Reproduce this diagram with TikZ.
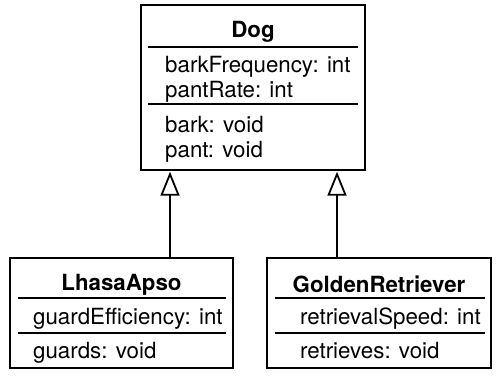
\documentclass[tikz,border=0pt]{standalone}
\usepackage{fontspec}
\setmainfont{TeX Gyre Heros}
\usetikzlibrary{arrows.meta}
\tikzset{
  cls/.style={draw=black, line width=1.4pt, rectangle, inner sep=0pt, fill=white},
  sep/.style={line width=1.1pt},
  ttl/.style={font=\fontsize{22.3}{25}\selectfont\bfseries, inner sep=0pt, anchor=center},
  mem/.style={font=\fontsize{22.3}{25}\selectfont, inner sep=0pt, anchor=mid west},
  inh/.style={line width=1.3pt, shorten >=1pt, -{Triangle[open, length=24pt, width=19pt, line width=1.8pt]}}
}
\begin{document}
\begin{tikzpicture}[x=1pt,y=-1pt]
\useasboundingbox (0,0) rectangle (502,375);
% Dog
\node[cls, minimum width=224pt, minimum height=165pt] (Dog) at (253,87.5) {};
\node[ttl] (DogT) at (253,32) {Dog};
\draw[sep] (148,47) -- (358,47);
\node[mem] (d1) at (165,69.5) {barkFrequency: int};
\node[mem] (d2) at (165,94.5) {pantRate: int};
\draw[sep] (148,104) -- (358,104);
\node[mem] (d3) at (165,130) {bark: void};
\node[mem] (d4) at (165,155) {pant: void};
% LhasaApso
\node[cls, minimum width=223pt, minimum height=110pt] (Lh) at (121.5,313) {};
\node[ttl] (LhT) at (121.5,284.5) {LhasaApso};
\draw[sep] (18,298) -- (226,298);
\node[mem] (l1) at (33,322) {guardEfficiency: int};
\draw[sep] (18,333) -- (226,333);
\node[mem] (l2) at (33,356) {guards: void};
% GoldenRetriever
\node[cls, minimum width=224pt, minimum height=110pt] (Gr) at (379,313) {};
\node[ttl] (GrT) at (379,284.5) {GoldenRetriever};
\draw[sep] (275,298) -- (485,298);
\node[mem] (g1) at (300,322) {retrievalSpeed: int};
\draw[sep] (275,333) -- (485,333);
\node[mem] (g2) at (300,356) {retrieves: void};
% inheritance
\coordinate (p1) at (170,0);
\coordinate (p2) at (337,0);
\draw[inh] (Lh.north -| p1) -- (Dog.south -| p1);
\draw[inh] (Gr.north -| p2) -- (Dog.south -| p2);
\end{tikzpicture}
\end{document}
